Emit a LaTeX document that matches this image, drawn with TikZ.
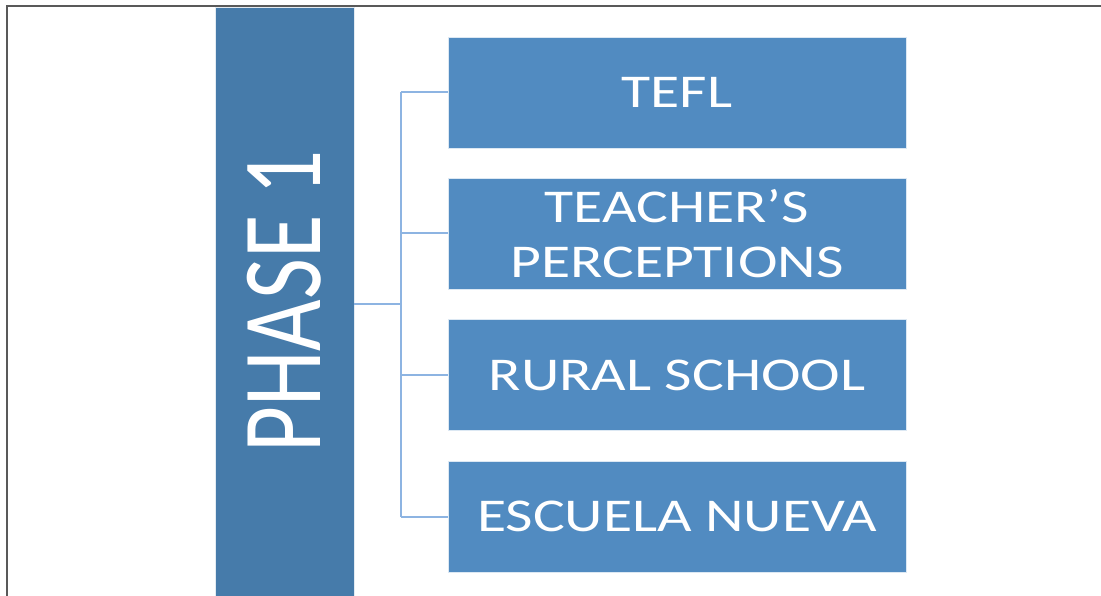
\documentclass[tikz,border=0pt]{standalone}
\usepackage{fontspec}
\setmainfont{Carlito}
\newfontfamily\boxfont{Carlito}[FakeStretch=1.27]
\usetikzlibrary{positioning,calc}

\definecolor{phaseblue}{RGB}{70,123,170}
\definecolor{topicblue}{RGB}{81,139,193}
\definecolor{linkblue}{RGB}{141,180,226}

\tikzset{
	phasebox/.style={fill=phaseblue, draw=white!85!phaseblue, line width=0.8pt, inner sep=0pt,
		minimum width=139pt, minimum height=589pt, text=white},
	topic/.style={fill=topicblue, draw=white!80!topicblue, line width=0.8pt, inner sep=0pt,
		minimum width=458pt, minimum height=111pt, text=white, align=center,
		font=\boxfont\fontsize{47}{55}\selectfont},
	branch/.style={draw=linkblue, line width=2pt}
}

\begin{document}
\begin{tikzpicture}[x=1pt,y=-1pt]
	\useasboundingbox (0,0) rectangle (1101,596);
	\draw[gray!70!black, line width=1.5pt] (7,596) -- (7,6) -- (1101,6);

	\node[phasebox]	(phase)		at (284.5,301.5)	{\scalebox{1.27}[1]{\rotatebox{90}{\fontsize{89}{89}\selectfont PHASE 1}}};
	\node[topic]	(tefl)		at (677,92.5)		{TEFL};
	\node[topic]	(perc)		at (677,233.5)		{TEACHER’S\\PERCEPTIONS};
	\node[topic]	(rural)		at (677,375)		{RURAL SCHOOL};
	\node[topic]	(escuela)	at (677,516.5)		{ESCUELA NUEVA};

	\coordinate (trunk) at (401,304);
	\draw[branch] (phase.east |- trunk) -- (trunk);
	\draw[branch] (trunk |- tefl.west) -- (trunk |- escuela.west);
	\foreach \t in {tefl,perc,rural,escuela}
		\draw[branch] (trunk |- \t.west) -- (\t.west);
\end{tikzpicture}
\end{document}
